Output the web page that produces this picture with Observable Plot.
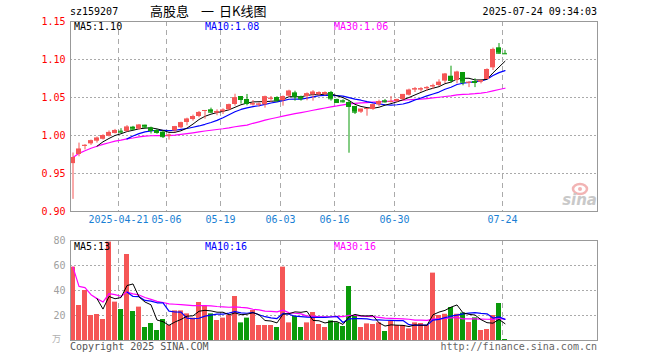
<!DOCTYPE html>
<html>
<head>
<meta charset="utf-8">
<script src="https://cdn.jsdelivr.net/npm/d3@7"></script>
<script src="https://cdn.jsdelivr.net/npm/@observablehq/plot@0.6"></script>
<style>
  html, body { margin: 0; padding: 0; background: #fff; }
  #wrap { position: relative; width: 660px; height: 360px; overflow: hidden; font-family: "DejaVu Sans Mono", monospace; font-size: 10px; }
  .abs { position: absolute; white-space: pre; line-height: 1; }
  #wrap svg { position: absolute; left: 0; }
</style>
</head>
<body>
<div id="wrap"></div>
<script>
// ---- data (2025-04-09 .. 2025-07-24) ----
const open  = [0.963,0.975,0.986,0.989,0.9925,0.995,0.999,1.0026,1.0057,1.0053,1.011,1.0083,1.0136,1.010,1.0066,1.0044,0.999,1.006,1.0101,1.0171,
               1.021,1.025,1.0316,1.0338,1.0294,1.0312,1.0338,1.0408,1.0513,1.0474,1.0404,1.0400,1.0404,1.048,1.050,1.046,1.0517,1.0561,1.0509,1.0513,
               1.0535,1.0535,1.054,1.0566,1.0474,1.0457,1.0434,1.0382,1.0307,1.0342,1.0342,1.0404,1.0457,1.0438,1.0447,1.0474,1.053,1.060,1.060,1.0614,
               1.064,1.0658,1.0715,1.078,1.0724,1.0829,1.069,1.071,1.0701,1.0737,1.089,1.1154,1.108];
const high  = [0.977,0.990,0.988,0.994,0.998,1.001,1.006,1.008,1.009,1.013,1.012,1.0145,1.0136,1.011,1.008,1.006,1.002,1.012,1.0175,1.0228,
               1.0268,1.0316,1.0329,1.036,1.0338,1.0351,1.0413,1.0543,1.0513,1.054,1.046,1.043,1.0518,1.0513,1.051,1.052,1.0596,1.0583,1.0518,1.0561,
               1.059,1.0575,1.0575,1.058,1.0478,1.047,1.046,1.0382,1.0346,1.0355,1.0413,1.0465,1.0474,1.0513,1.0478,1.054,1.061,1.0632,1.063,1.0645,
               1.0675,1.0733,1.0816,1.0912,1.0846,1.0829,1.0705,1.0746,1.0724,1.0877,1.115,1.121,1.112];
const low   = [0.916,0.972,0.981,0.987,0.990,0.994,0.998,1.002,1.003,1.004,1.007,1.007,1.009,1.002,1.0017,0.996,0.994,1.004,1.009,1.0127,
               1.0189,1.0233,1.0215,1.029,1.026,1.0277,1.0325,1.0386,1.0413,1.039,1.0386,1.0373,1.036,1.0434,1.044,1.0386,1.050,1.0452,1.0452,1.0457,
               1.0452,1.052,1.052,1.0452,1.0426,1.0426,0.9767,1.0276,1.029,1.0254,1.033,1.038,1.0426,1.0426,1.0434,1.0452,1.052,1.0566,1.057,1.058,
               1.0605,1.0645,1.0684,1.0684,1.068,1.0654,1.063,1.063,1.068,1.0737,1.0855,1.107,1.107];
const close = [0.971,0.982,0.987,0.993,0.9965,1.000,1.004,1.0066,1.0044,1.011,1.0083,1.0136,1.011,1.0066,1.0039,0.9985,1.0005,1.0115,1.0167,1.0215,
               1.025,1.0303,1.0329,1.0307,1.0316,1.0334,1.0404,1.0496,1.0474,1.0421,1.0417,1.0413,1.0509,1.049,1.0457,1.0513,1.0583,1.0509,1.0483,1.0548,
               1.057,1.0565,1.0565,1.0483,1.0434,1.0443,1.0382,1.0307,1.0346,1.0355,1.0404,1.0447,1.0443,1.0447,1.0474,1.054,1.0596,1.0614,1.0614,1.0632,
               1.0654,1.070,1.0807,1.0724,1.0833,1.0701,1.070,1.0697,1.0724,1.0868,1.1132,1.1083,1.1075];
// volume in 万 (10k)
const volume = [58.7,28,40,20,20.8,16.8,78.7,30.7,24.8,68.8,23.2,26.7,10.4,13.6,8,16.8,12,23.7,23.7,21.3,
                17.9,30.4,27.5,21.3,16,17.9,20,35.2,14.1,17.9,24,12,12,12,10.4,58.7,14.1,19.2,10.4,14.1,
                22.4,12.8,10.4,15.7,14.1,11.2,43.2,20,10.4,13.3,12.8,14.1,7.2,15.2,12,12,9.3,14.1,13.6,12,
                53.9,20,21,26.4,21,22,14.4,18.1,8,8.8,20,29.6,0.8];
const tickIndex  = [8, 16, 25, 35, 44, 54, 72];
const tickLabels = ["2025-04-21","05-06","05-19","06-03","06-16","06-30","07-24"];
const priceTicks = [0.90, 0.95, 1.00, 1.05, 1.10, 1.15];
const volTicks   = [20, 40, 60, 80];
const priceMALabels = ["MA5:1.10", "MA10:1.08", "MA30:1.06"];
const volMALabels   = ["MA5:13", "MA10:16", "MA30:16"];
const titleCode = "sz159207";
const titleName = ["高股息", "一", "日K线图"];
const stamp = "2025-07-24 09:34:03";

// ---- derived ----
const RED = "#f55656", GREEN = "#0a9a0a";
const rows = close.map((c, i) => ({i, o: open[i], h: high[i], l: low[i], c, v: volume[i],
  col: c >= open[i] ? RED : GREEN}));
function ma(arr, n, expanding) {
  return arr.map((_, i) => i < n - 1 ? (expanding ? d3.mean(arr.slice(0, i + 1)) : NaN)
                                     : d3.mean(arr.slice(i - n + 1, i + 1)));
}
const mk = (arr) => {
  const a = ma(arr, 5, false), b = ma(arr, 10, false), c = ma(arr, 30, true);
  return arr.map((_, i) => ({i, m5: a[i], m10: b[i], m30: c[i]}));
};
const pMA = mk(close), vMA = mk(volume);
const ticks = tickIndex.map((i, k) => ({x: i - 5/12, label: tickLabels[k]}));
const xDomain = [-5/12, 527/6 - 5/12];
const FONT = "DejaVu Sans Mono, monospace";

const wrap = document.getElementById("wrap");

const price = Plot.plot({
  width: 660, height: 230,
  marginLeft: 70, marginRight: 63, marginTop: 21, marginBottom: 19,
  style: {fontFamily: FONT, fontSize: "10px", background: "transparent"},
  x: {domain: xDomain, axis: null},
  y: {domain: [0.90, 1.15], axis: null},
  marks: [
    Plot.ruleY(priceTicks.slice(1, -1), {stroke: "#aaa", strokeDasharray: "2,2"}),
    Plot.ruleX(ticks, {x: "x", stroke: "#aaa", strokeDasharray: "5,4"}),
    Plot.line(pMA, {x: "i", y: "m30", stroke: "#ff00ff", strokeWidth: 1.2}),
    Plot.line(pMA, {x: "i", y: "m10", stroke: "#0000ff", strokeWidth: 1.2}),
    Plot.line(pMA, {x: "i", y: "m5", stroke: "#000", strokeWidth: 1}),
    Plot.ruleX(rows, {x: "i", y1: "l", y2: "h", stroke: "col", strokeWidth: 1}),
    Plot.rect(rows, {x1: d => d.i - 5/12, x2: d => d.i + 5/12, y1: "o", y2: "c", fill: "col"}),
    Plot.ruleY(rows, {x1: d => d.i - 5/12, x2: d => d.i + 5/12, y: "c", stroke: "col"}),
    Plot.frame({stroke: "#999"}),
    Plot.axisY({ticks: priceTicks, tickFormat: d => d.toFixed(2), tickSize: 0, tickPadding: 5,
                fill: "#ff0000", fontSize: 10}),
    Plot.text(ticks, {x: "x", text: "label", frameAnchor: "bottom", dy: 11, fill: "#1a7fd4", fontSize: 10})
  ]
});
price.style.top = "0px";
wrap.appendChild(price);

const vol = Plot.plot({
  width: 660, height: 112,
  marginLeft: 70, marginRight: 63, marginTop: 10, marginBottom: 2,
  style: {fontFamily: FONT, fontSize: "10px", background: "transparent"},
  x: {domain: xDomain, axis: null},
  y: {domain: [0, 80], axis: null},
  marks: [
    Plot.ruleY(volTicks.slice(0, -1), {stroke: "#aaa", strokeDasharray: "2,2"}),
    Plot.ruleX(ticks, {x: "x", stroke: "#aaa", strokeDasharray: "5,4"}),
    Plot.rect(rows, {x1: d => d.i - 5/12, x2: d => d.i + 5/12, y1: 0, y2: "v", fill: "col"}),
    Plot.line(vMA, {x: "i", y: "m30", stroke: "#ff00ff", strokeWidth: 1.2}),
    Plot.line(vMA, {x: "i", y: "m10", stroke: "#0000ff", strokeWidth: 1.2}),
    Plot.line(vMA, {x: "i", y: "m5", stroke: "#000", strokeWidth: 1}),
    Plot.frame({stroke: "#999"}),
    Plot.axisY({ticks: volTicks, tickFormat: d => d, tickSize: 0, tickPadding: 5, fill: "#a0a0a0", fontSize: 10})
  ]
});
vol.style.top = "230px";
wrap.appendChild(vol);

// ---- text overlays ----
function addText(txt, left, top, color, extra) {
  const d = document.createElement("div");
  d.className = "abs";
  d.textContent = txt;
  d.style.left = left + "px"; d.style.top = top + "px"; d.style.color = color;
  if (extra) Object.assign(d.style, extra);
  wrap.appendChild(d);
  return d;
}
addText(titleCode, 70, 7, "#000");
const cjk = {fontFamily: "'Noto Sans CJK SC', sans-serif", fontSize: "13px"};
addText(titleName[0], 150, 4, "#000", cjk);
addText(titleName[1], 201, 4, "#000", cjk);
addText(titleName[2], 219, 4, "#000", cjk);
addText(stamp, 597, 7, "#000", {transform: "translateX(-100%)"});

const maColors = ["#000", "#0000ff", "#ff00ff"];
const maX = [74, 205, 334];
priceMALabels.forEach((t, k) => addText(t, maX[k], 22, maColors[k]));
volMALabels.forEach((t, k) => addText(t, maX[k], 242, maColors[k]));

addText("万", 52, 334, "#b0b0b0", {fontFamily: "'Noto Sans CJK SC', sans-serif", fontSize: "9px"});
addText("Copyright 2025 SINA.COM", 70, 342, "#555");
addText("http://finance.sina.com.cn", 597, 342, "#666", {transform: "translateX(-100%)"});

// sina watermark
const ns = "http://www.w3.org/2000/svg";
const logo = document.createElementNS(ns, "svg");
logo.setAttribute("width", 40); logo.setAttribute("height", 30);
logo.style.left = "560px"; logo.style.top = "180px";
logo.innerHTML = '<ellipse cx="20" cy="9" rx="7" ry="5" fill="none" stroke="#f2b4b4" stroke-width="2.5"/>' +
  '<circle cx="20" cy="9" r="2" fill="#f2b4b4"/>' +
  '<text x="37" y="25" text-anchor="end" font-family="DejaVu Sans, sans-serif" font-size="15" font-weight="bold" font-style="italic" fill="#c9c9c9">sina</text>';
wrap.appendChild(logo);
</script>
</body>
</html>
